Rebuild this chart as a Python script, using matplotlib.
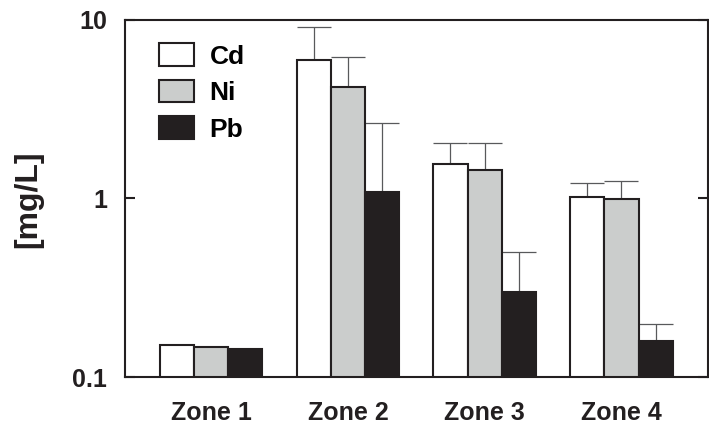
import numpy as np
import matplotlib
matplotlib.use("Agg")
from matplotlib import pyplot as plt
from matplotlib.patches import Patch

plt.rcParams['font.family'] = ['Liberation Sans', 'DejaVu Sans']
plt.rcParams['font.weight'] = 'bold'

# Metal concentrations per zone (mg/L) and upper error (mg/L)
zones = ["Zone 1", "Zone 2", "Zone 3", "Zone 4"]
metals = ["Cd", "Ni", "Pb"]
cd = [0.152, 5.97, 1.555, 1.02]
ni = [0.148, 4.20, 1.44, 0.99]
pb = [0.144, 1.09, 0.30, 0.159]
cd_err = [0.0, 3.13, 0.49, 0.20]
ni_err = [0.0, 2.03, 0.60, 0.27]
pb_err = [0.0, 1.57, 0.20, 0.04]

dark = "#231f20"
fills = ["white", "#cbcdcc", dark]
values = [cd, ni, pb]
errors = [cd_err, ni_err, pb_err]

fig = plt.figure(figsize=(7.09, 4.25), dpi=100)
ax = fig.add_axes([0.1763, 0.1129, 0.8217, 0.8401])

x = np.arange(len(zones))
width = 0.25
for i, (vals, errs, fc) in enumerate(zip(values, errors, fills)):
    pos = x + (i - 1) * width
    ax.errorbar(pos, vals, yerr=[np.zeros(len(errs)), errs], fmt='none',
                ecolor="#58595b", elinewidth=0.9, capsize=12.2,
                capthick=0.9, zorder=1)
    ax.bar(pos, vals, width=width, color=fc, edgecolor=dark,
           linewidth=1.5, zorder=2)

ax.set_yscale('log')
ax.set_ylim(0.1, 10)
ax.set_xlim(-0.63, 3.63)
ax.set_yticks([0.1, 1, 10])
ax.set_yticklabels(["0.1", "1", "10"])
ax.minorticks_off()
ax.set_xticks(x)
ax.set_xticklabels(zones)

ax.tick_params(axis='y', direction='in', length=7.2, width=1.5,
               color=dark, left=True, right=True, labelsize=18, pad=13)
ax.tick_params(axis='x', length=0, labelsize=18, pad=17)
for lbl in ax.get_xticklabels() + ax.get_yticklabels():
    lbl.set_fontweight('bold')
    lbl.set_color(dark)

for sp in ax.spines.values():
    sp.set_linewidth(1.5)
    sp.set_color(dark)

fig.text(28.5 / 709, 1 - 199 / 425, "[mg/L]", rotation=90, ha='center',
         va='center', fontsize=23, fontweight='bold', color=dark)

handles = [Patch(facecolor=fc, edgecolor=dark, linewidth=1.5) for fc in fills]
ax.legend(handles, metals, loc='upper left', bbox_to_anchor=(0.058, 0.935),
          frameon=False, handlelength=1.33, handleheight=0.95,
          labelspacing=0.42, handletextpad=0.6, borderpad=0, borderaxespad=0,
          prop={'weight': 'bold', 'size': 19})

fig.savefig("out.png", dpi=100)
